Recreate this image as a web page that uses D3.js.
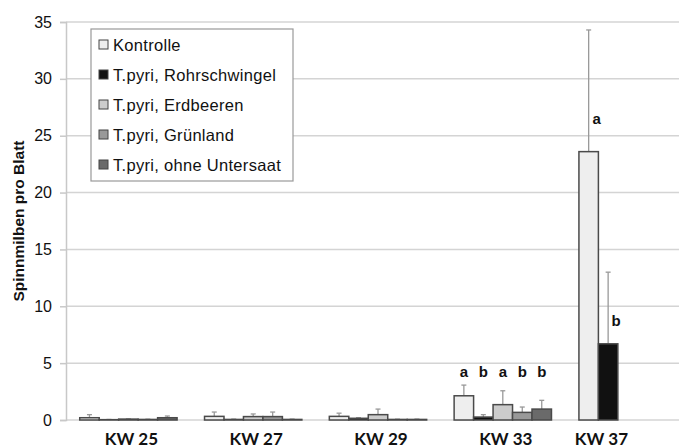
<!DOCTYPE html>
<html lang="de">
<head>
<meta charset="UTF-8">
<script src="https://d3js.org/d3.v7.min.js"></script>
<style>
  body { margin: 0; background: #fff; }
  svg text { font-family: "Liberation Sans", Arial, sans-serif; fill: #111; }
  .kw { font-family: Lato, "Open Sans", sans-serif; font-weight: bold; }
</style>
</head>
<body>
<svg id="svg" width="679" height="447"></svg>
<script>
// chart data
var weeks = ["KW 25", "KW 27", "KW 29", "KW 33", "KW 37"];
var seriesNames = ["Kontrolle", "T.pyri, Rohrschwingel", "T.pyri, Erdbeeren", "T.pyri, Grünland", "T.pyri, ohne Untersaat"];
var seriesColors = ["#eeeeee", "#111111", "#cccccc", "#999999", "#6a6a6a"];
// means per series, one value per week (null = not sampled)
var kontrolle    = [0.2, 0.32, 0.32, 2.13, 23.6];
var rohrschwingel = [0.03, 0.05, 0.15, 0.26, 6.7];
var erdbeeren    = [0.08, 0.3, 0.47, 1.35, null];
var gruenland    = [0.05, 0.3, 0.05, 0.67, null];
var ohneUntersaat = [0.2, 0.05, 0.05, 0.96, null];
// upper end of the error bars
var kontrolleErr    = [0.47, 0.7, 0.6, 3.07, 34.3];
var rohrschwingelErr = [0.05, 0.08, 0.2, 0.47, 13.0];
var erdbeerenErr    = [0.1, 0.53, 0.96, 2.57, null];
var gruenlandErr    = [0.07, 0.7, 0.07, 1.14, null];
var ohneUntersaatErr = [0.35, 0.08, 0.08, 1.73, null];
// significance letters (per week, per series) and the height they sit at
var letters = [
  [null, null, null, null, null],
  [null, null, null, null, null],
  [null, null, null, null, null],
  ["a", "b", "a", "b", "b"],
  ["a", "b", null, null, null]
];
var letterLevels = [null, null, null, 3.8, null];
var letterLevelsKW37 = [26.0, 8.3];
var yTicks = [0, 5, 10, 15, 20, 25, 30, 35];

var values = [kontrolle, rohrschwingel, erdbeeren, gruenland, ohneUntersaat];
var errors = [kontrolleErr, rohrschwingelErr, erdbeerenErr, gruenlandErr, ohneUntersaatErr];

var svg = d3.select("#svg");
var plotLeft = 66, plotTop = 22, plotBottom = 420, plotRight = 690;

var y = d3.scaleLinear().domain([0, 35]).range([plotBottom, plotTop]);
var x0 = d3.scaleBand().domain(weeks).range([plotLeft, plotRight]).paddingInner(0.22).paddingOuter(0.11);
var x1 = d3.scaleBand().domain(d3.range(seriesNames.length)).range([0, x0.bandwidth()]);

// gridlines
svg.append("g")
  .selectAll("line")
  .data(yTicks)
  .enter().append("line")
  .attr("x1", plotLeft).attr("x2", 679)
  .attr("y1", d => y(d)).attr("y2", d => y(d))
  .attr("stroke", "#d4d4d4")
  .attr("stroke-width", 1.5);

// y axis
var yAxis = d3.axisLeft(y).tickValues(yTicks).tickSize(6).tickPadding(8);
var gy = svg.append("g").attr("transform", "translate(" + plotLeft + ",0)").call(yAxis);
gy.select(".domain").attr("stroke", "#c8c8c8").attr("stroke-width", 1.5);
gy.selectAll(".tick line").attr("stroke", "#c8c8c8").attr("stroke-width", 1.5);
gy.selectAll(".tick text").attr("font-size", 16).attr("fill", "#222")
  .attr("font-family", "Liberation Sans, Arial, sans-serif");

svg.append("text")
  .attr("transform", "translate(24," + ((plotTop + plotBottom) / 2) + ") rotate(-90)")
  .attr("text-anchor", "middle")
  .attr("font-size", 15.5)
  .attr("font-weight", "bold")
  .text("Spinnmilben pro Blatt");

// bars
var cells = [];
weeks.forEach(function (w, wi) {
  seriesNames.forEach(function (s, si) {
    if (values[si][wi] != null) {
      cells.push({ week: w, wi: wi, si: si, v: values[si][wi], e: errors[si][wi], letter: letters[wi][si] });
    }
  });
});

var bars = svg.append("g").selectAll("g").data(cells).enter().append("g");

// error bars first so the bar covers the lower part
bars.append("line")
  .attr("x1", d => x0(d.week) + x1(d.si) + x1.bandwidth() / 2)
  .attr("x2", d => x0(d.week) + x1(d.si) + x1.bandwidth() / 2)
  .attr("y1", d => y(d.v))
  .attr("y2", d => y(d.e))
  .attr("stroke", "#999")
  .attr("stroke-width", 1.3);
bars.append("line")
  .attr("x1", d => x0(d.week) + x1(d.si) + x1.bandwidth() / 2 - 2.5)
  .attr("x2", d => x0(d.week) + x1(d.si) + x1.bandwidth() / 2 + 2.5)
  .attr("y1", d => y(d.e))
  .attr("y2", d => y(d.e))
  .attr("stroke", "#999")
  .attr("stroke-width", 1.3);

bars.append("rect")
  .attr("x", d => x0(d.week) + x1(d.si))
  .attr("y", d => y(d.v))
  .attr("width", x1.bandwidth())
  .attr("height", d => y(0) - y(d.v))
  .attr("fill", d => seriesColors[d.si])
  .attr("stroke", "#4a4a4a")
  .attr("stroke-width", 1.5);

// significance letters
bars.filter(d => d.letter)
  .append("text")
  .attr("x", function (d) {
    var cx = x0(d.week) + x1(d.si) + x1.bandwidth() / 2;
    return d.wi === 4 ? cx + 8 : cx;
  })
  .attr("y", function (d) {
    return d.wi === 4 ? y(letterLevelsKW37[d.si]) : y(letterLevels[d.wi]);
  })
  .attr("text-anchor", "middle")
  .attr("font-size", 15)
  .attr("font-weight", "bold")
  .attr("font-family", "Lato, sans-serif")
  .text(d => d.letter);

// week labels, centred below the bars that exist
weeks.forEach(function (w, wi) {
  var present = d3.range(seriesNames.length).filter(si => values[si][wi] != null);
  var first = x0(w) + x1(present[0]);
  var last = x0(w) + x1(present[present.length - 1]) + x1.bandwidth();
  svg.append("text")
    .attr("class", "kw")
    .attr("x", (first + last) / 2 + 3)
    .attr("y", 444.5)
    .attr("text-anchor", "middle")
    .attr("font-size", 17)
    .text(w);
});

// legend
var legend = svg.append("g");
legend.append("rect")
  .attr("x", 91).attr("y", 29)
  .attr("width", 202).attr("height", 152)
  .attr("fill", "#fff")
  .attr("stroke", "#999")
  .attr("stroke-width", 1.2);

var items = legend.selectAll(".item").data(seriesNames).enter().append("g")
  .attr("transform", (d, i) => "translate(99," + (45 + i * 30) + ")");
items.append("rect")
  .attr("x", 0).attr("y", -5)
  .attr("width", 9).attr("height", 9)
  .attr("fill", (d, i) => seriesColors[i])
  .attr("stroke", "#444")
  .attr("stroke-width", 1);
items.append("text")
  .attr("x", 14).attr("y", 6)
  .attr("font-size", 16.5)
  .attr("letter-spacing", 0.3)
  .text(d => d);
</script>
</body>
</html>
